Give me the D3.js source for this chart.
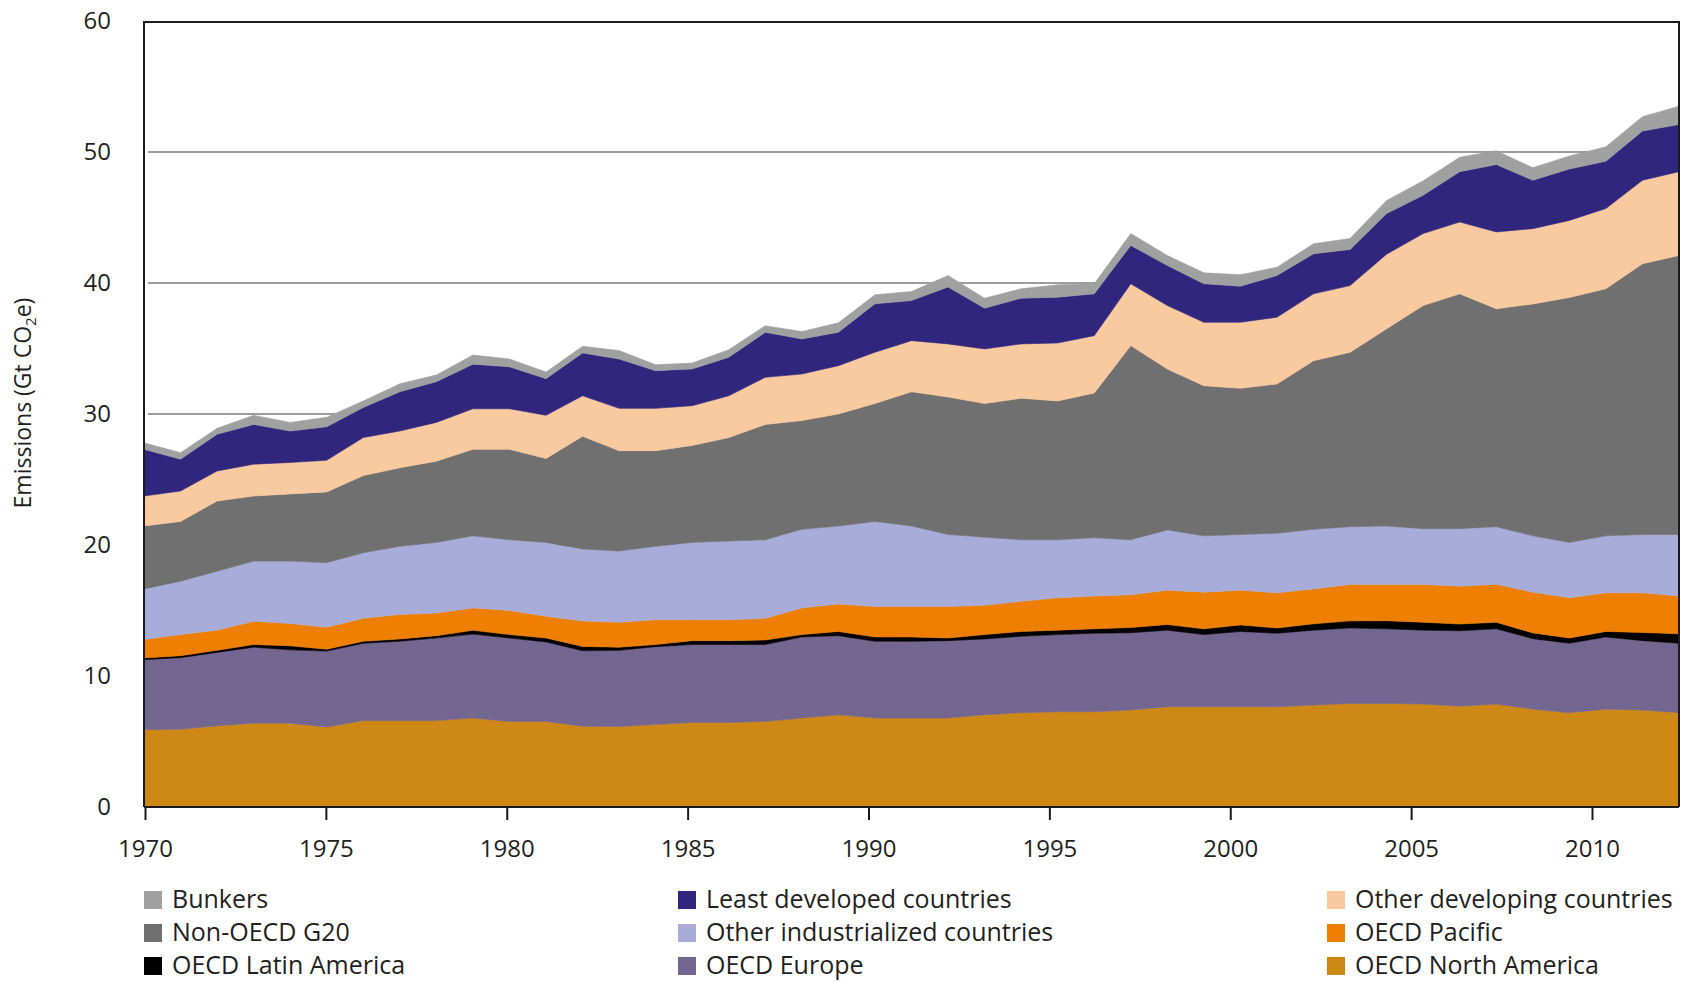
<!DOCTYPE html>
<html><head><meta charset="utf-8">
<script src="https://cdn.jsdelivr.net/npm/d3@7/dist/d3.min.js"></script>
<style>
body{margin:0;background:#fff}
svg{display:block}
text{font-family:"Open Sans",sans-serif;fill:#231f20}
</style>
</head><body>
<svg id="chart" width="1685" height="982"></svg>
<script>
const years = [1970,1971,1972,1973,1974,1975,1976,1977,1978,1979,1980,1981,1982,1983,1984,1985,1986,1987,1988,1989,1990,1991,1992,1993,1994,1995,1996,1997,1998,1999,2000,2001,2002,2003,2004,2005,2006,2007,2008,2009,2010,2011,2012];

const oecdNorthAmerica = [5.90,5.93,6.20,6.40,6.40,6.10,6.60,6.60,6.60,6.79,6.53,6.53,6.17,6.14,6.30,6.45,6.45,6.53,6.79,7.04,6.79,6.79,6.79,7.04,7.20,7.27,7.27,7.40,7.65,7.65,7.65,7.65,7.78,7.90,7.90,7.86,7.70,7.86,7.47,7.20,7.47,7.40,7.20];
const oecdEurope = [5.35,5.47,5.60,5.80,5.60,5.80,5.90,6.05,6.30,6.41,6.37,6.07,5.76,5.82,5.94,5.95,5.95,5.87,6.19,6.04,5.86,5.86,5.91,5.79,5.83,5.89,5.99,5.90,5.85,5.51,5.75,5.61,5.72,5.77,5.70,5.64,5.75,5.74,5.38,5.30,5.51,5.30,5.30];
const oecdLatinAmerica = [0.13,0.15,0.16,0.20,0.30,0.15,0.15,0.18,0.18,0.29,0.26,0.30,0.33,0.24,0.16,0.30,0.30,0.35,0.18,0.32,0.33,0.33,0.20,0.33,0.37,0.34,0.34,0.40,0.43,0.44,0.50,0.41,0.48,0.54,0.62,0.60,0.52,0.50,0.44,0.40,0.42,0.62,0.72];
const oecdPacific = [1.40,1.61,1.54,1.78,1.70,1.67,1.75,1.87,1.72,1.71,1.84,1.66,1.94,1.90,1.90,1.60,1.60,1.65,2.04,2.10,2.32,2.32,2.40,2.24,2.30,2.47,2.50,2.50,2.62,2.80,2.65,2.68,2.67,2.78,2.77,2.89,2.89,2.90,3.11,3.07,2.95,3.03,2.88];
const otherIndustrialized = [3.87,4.08,4.50,4.59,4.77,4.93,5.00,5.20,5.40,5.50,5.40,5.64,5.50,5.44,5.60,5.90,6.00,6.00,6.00,5.95,6.50,6.15,5.50,5.20,4.70,4.43,4.46,4.20,4.60,4.30,4.25,4.55,4.55,4.41,4.46,4.26,4.39,4.40,4.30,4.23,4.35,4.45,4.70];
const nonOecdG20 = [4.80,4.56,5.36,4.97,5.13,5.40,5.90,6.00,6.20,6.60,6.90,6.40,8.60,7.66,7.30,7.40,7.90,8.80,8.30,8.55,9.00,10.25,10.50,10.20,10.80,10.60,11.04,14.82,12.28,11.46,11.16,11.39,12.87,13.31,15.05,17.03,17.92,16.63,17.70,18.70,18.86,20.67,21.30];
const otherDeveloping = [2.29,2.32,2.29,2.43,2.40,2.42,2.90,2.80,2.96,3.10,3.10,3.30,3.09,3.23,3.23,3.03,3.19,3.60,3.55,3.69,3.91,3.90,4.05,4.17,4.15,4.42,4.38,4.72,4.85,4.84,5.04,5.10,5.10,5.09,5.70,5.49,5.49,5.87,5.75,5.88,6.12,6.37,6.40];
const leastDeveloped = [3.56,2.43,2.81,3.03,2.40,2.55,2.30,3.00,3.11,3.40,3.20,2.80,3.27,3.77,2.88,2.81,2.94,3.44,2.68,2.55,3.70,3.06,4.34,3.11,3.49,3.50,3.19,2.93,3.06,2.94,2.76,3.18,3.06,2.76,3.10,2.93,3.84,5.14,3.69,3.92,3.62,3.76,3.60];
const bunkers = [0.50,0.50,0.45,0.70,0.66,0.73,0.50,0.60,0.51,0.70,0.60,0.50,0.51,0.64,0.45,0.45,0.58,0.50,0.56,0.72,0.69,0.69,0.88,0.76,0.72,0.94,0.77,0.90,0.76,0.84,0.87,0.63,0.77,0.84,1.00,1.10,1.10,1.06,0.96,1.00,1.10,1.10,1.40];

const seriesNames = ["OECD North America","OECD Europe","OECD Latin America","OECD Pacific","Other industrialized countries","Non-OECD G20","Other developing countries","Least developed countries","Bunkers"];
const seriesValues = [oecdNorthAmerica,oecdEurope,oecdLatinAmerica,oecdPacific,otherIndustrialized,nonOecdG20,otherDeveloping,leastDeveloped,bunkers];
const seriesColors = ["#cd8815","#736690","#000000","#ef7f00","#a8acd8","#707070","#f9caa0","#31267e","#a0a0a0"];
const legendOrder = ["Bunkers","Least developed countries","Other developing countries","Non-OECD G20","Other industrialized countries","OECD Pacific","OECD Latin America","OECD Europe","OECD North America"];

const yTicks = [0,10,20,30,40,50,60];
const xTicks = [1970,1975,1980,1985,1990,1995,2000,2005,2010];

const rows = years.map((yr,i)=>{
  const r = {year: yr};
  seriesNames.forEach((n,k)=> r[n] = seriesValues[k][i]);
  return r;
});
const colorOf = d3.scaleOrdinal().domain(seriesNames).range(seriesColors);

const svg = d3.select("#chart");
const L = 144, R = 1679, T = 22, B = 807;

const x = d3.scaleLinear().domain([1970, 2012]).range([L, R]);
const xTickScale = d3.scaleLinear().domain([1970, 2010]).range([145, 1592]);
const y = d3.scaleLinear().domain([0, 60]).range([B, 21]);

// gridlines
svg.append("g").selectAll("line").data(yTicks.filter(v=>v>0 && v<60)).join("line")
  .attr("x1", L+4).attr("x2", R).attr("y1", d=>y(d)).attr("y2", d=>y(d))
  .attr("stroke", "#9c9c9c").attr("stroke-width", 2);

// stacked areas
const stack = d3.stack().keys(seriesNames);
const layers = stack(rows);
const area = d3.area().x(d=>x(d.data.year)).y0(d=>y(d[0])).y1(d=>y(d[1]));
svg.append("g").selectAll("path").data(layers).join("path")
  .attr("d", area).attr("fill", d=>colorOf(d.key))
  .attr("stroke", d=>colorOf(d.key)).attr("stroke-width", 0.6);

// frame
svg.append("path").attr("d", `M${L},${B}V${T}H${R}V${B}`)
  .attr("fill","none").attr("stroke","#1a1a1a").attr("stroke-width",2);

// x axis
const xAxis = d3.axisBottom(xTickScale).tickValues(xTicks).tickFormat(d3.format("d")).tickSize(13).tickPadding(20);
const gx = svg.append("g").attr("transform", `translate(0,${B})`).call(xAxis);
gx.select(".domain").attr("d", `M${L},0H${R}`).attr("stroke","#1a1a1a").attr("stroke-width",2);
gx.selectAll(".tick line").attr("stroke","#1a1a1a").attr("stroke-width",2);
gx.selectAll(".tick text").attr("font-size", 24).attr("font-family", "Open Sans").attr("fill","#231f20");

// y axis labels
const yAxis = d3.axisLeft(y).tickValues(yTicks).tickSize(0).tickPadding(0);
const gy = svg.append("g").attr("transform", `translate(111,0)`).call(yAxis);
gy.select(".domain").remove();
gy.selectAll(".tick text").attr("font-size", 24).attr("font-family", "Open Sans").attr("fill","#231f20");

// y title
const yt = svg.append("text").attr("transform", `translate(31,403) rotate(-90)`)
  .attr("text-anchor","middle").attr("font-size", 23);
yt.append("tspan").text("Emissions (Gt CO");
yt.append("tspan").attr("font-size", 15).attr("dy", 5).text("2");
yt.append("tspan").attr("dy", -5).text("e)");

// legend
const colX = [144, 678, 1327];
const rowY = [900, 933, 966];
const lg = svg.append("g").selectAll("g").data(legendOrder).join("g")
  .attr("transform", (d,i)=>`translate(${colX[i%3]},${rowY[Math.floor(i/3)]})`);
lg.append("rect").attr("x",0).attr("y",-9).attr("width",18).attr("height",18).attr("fill", d=>colorOf(d));
lg.append("text").attr("x",28).attr("y",0).attr("dy","0.3em").attr("font-size",25).text(d=>d);
</script>
</body></html>
